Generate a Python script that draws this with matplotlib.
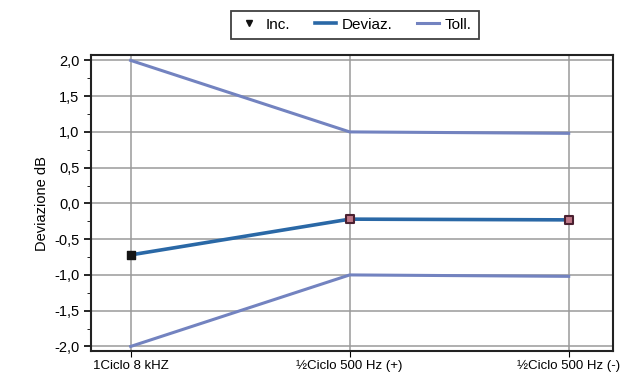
import numpy as np
import matplotlib
matplotlib.use("Agg")
import matplotlib.pyplot as plt
from matplotlib.lines import Line2D
from matplotlib.ticker import MultipleLocator

plt.rcParams['font.family'] = ['Liberation Sans', 'DejaVu Sans']

categories = ['1Ciclo 8 kHZ', '½Ciclo 500 Hz (+)', '½Ciclo 500 Hz (-)']
deviaz = [-0.72, -0.22, -0.23]
toll_up = [2.0, 1.0, 0.98]
toll_low = [-2.0, -1.0, -1.02]

x = np.arange(len(categories))

fig = plt.figure(figsize=(6.25, 3.82), dpi=100)
ax = fig.add_axes([0.146, 0.08, 0.834, 0.775])

ax.plot(x, toll_up, color='#7383c0', lw=2.2, zorder=2)
ax.plot(x, toll_low, color='#7383c0', lw=2.2, zorder=2)
ax.plot(x, deviaz, color='#2a68a6', lw=2.6, zorder=3)
ax.scatter(x[:1], deviaz[:1], marker='s', s=40, color='#151515', zorder=4)
ax.scatter(x[1:], deviaz[1:], marker='s', s=40, facecolor='#c07888',
           edgecolor='#4a2030', lw=1.5, zorder=4)

ax.set_xlim(-0.18, 2.2)
ax.set_ylim(-2.07, 2.07)
ax.set_xticks(x)
ax.set_xticklabels(categories, fontsize=9.5)
ax.set_yticks(np.arange(-2.0, 2.01, 0.5))
ax.set_yticklabels([f'{v:.1f}'.replace('.', ',') for v in np.arange(-2.0, 2.01, 0.5)],
                   fontsize=10.5)
ax.yaxis.set_minor_locator(MultipleLocator(0.25))
ax.tick_params(axis='y', which='major', length=5, width=1.2)
ax.tick_params(axis='y', which='minor', length=3)
ax.tick_params(axis='x', length=4, pad=2)
ax.set_ylabel('Deviazione dB', fontsize=10.5)
ax.grid(True, color='#9a9a9a', lw=1.1)
for s in ax.spines.values():
    s.set_linewidth(1.5)
    s.set_color('#222222')

handles = [
    Line2D([], [], marker='v', color='#111111', ls='none', markersize=5),
    Line2D([], [], color='#2a68a6', lw=2.6),
    Line2D([], [], color='#7383c0', lw=2.2),
]
leg = fig.legend(handles, ['Inc.', 'Deviaz.', 'Toll.'], loc='center',
                 bbox_to_anchor=(0.568, 0.935), ncol=3, fontsize=11,
                 frameon=True, fancybox=False, edgecolor='#111111',
                 handlelength=1.4, handletextpad=0.4, columnspacing=1.6,
                 borderpad=0.45, borderaxespad=0)
leg.get_frame().set_linewidth(1.3)

fig.savefig('out.png', dpi=100)
